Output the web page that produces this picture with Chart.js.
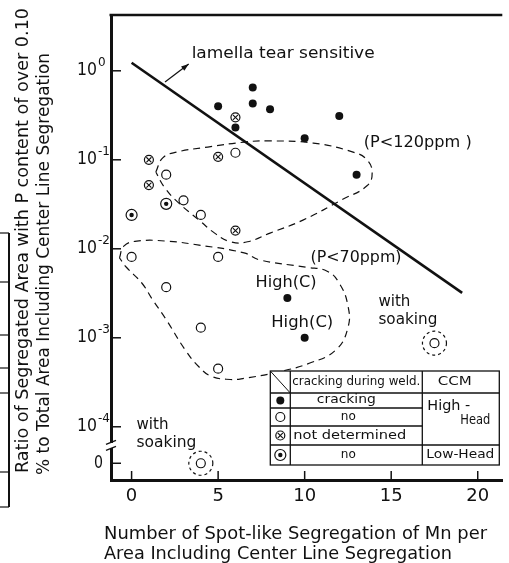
<!DOCTYPE html>
<html>
<head>
<meta charset="utf-8">
<script src="https://cdn.jsdelivr.net/npm/chart.js@4.4.0/dist/chart.umd.min.js"></script>
<style>
  html, body { margin: 0; padding: 0; background: #fff; }
  canvas { display: block; }
</style>
</head>
<body>
<canvas id="chart" width="509" height="563"></canvas>
<script>
// ---- data ----
const xTickValues = [0, 5, 10, 15, 20];
const yTickValues = [0, 1e-4, 1e-3, 1e-2, 1e-1, 1];
const yTickExponents = [null, '-4', '-3', '-2', '-1', '0'];

// High-head CCM, cracking during welding
const crackX = [5, 6, 7, 7, 8, 10, 12, 13, 9, 10];
const crackY = [0.40, 0.23, 0.65, 0.43, 0.37, 0.175, 0.31, 0.068, 0.0028, 0.001];

// High-head CCM, no cracking
const noCrackX = [2, 3, 4, 6, 0, 5, 2, 4, 5, 4, 17.5];
const noCrackY = [0.068, 0.035, 0.024, 0.12, 0.0081, 0.0081, 0.0037, 0.0013, 0.00045, 0, 0.00087];

// High-head CCM, not determined
const undetX = [1, 1, 5, 6, 6];
const undetY = [0.10, 0.052, 0.108, 0.30, 0.016];

// Low-head CCM, no cracking
const lowHeadX = [0, 2];
const lowHeadY = [0.024, 0.032];

// samples treated with soaking (dashed rings)
const soakX = [4, 17.5];
const soakY = [0, 0.00087];

// "lamella tear sensitive" boundary
const lineX = [0, 19.1];
const lineY = [1.23, 0.0032];

// dashed regions
const region120X = [1.4, 1.8, 2.6, 4.4, 6.5, 7.8, 10.5, 12.8, 13.6, 13.9, 13.6, 12.2, 9.9, 8.0, 6.7, 5.7, 4.8, 3.9, 2.7, 1.9];
const region120Y = [0.073, 0.105, 0.122, 0.139, 0.158, 0.163, 0.154, 0.122, 0.100, 0.071, 0.051, 0.036, 0.021, 0.015, 0.012, 0.012, 0.015, 0.021, 0.033, 0.049];
const region70X = [-0.7, -0.45, 0.3, 2.0, 3.9, 6.5, 7.4, 10.1, 11.3, 12.0, 12.5, 12.5, 11.8, 10.3, 8.4, 6.5, 5.7, 4.6, 3.9, 3.1, 2.0, 1.2, 0.6, -0.3];
const region70Y = [0.0079, 0.0107, 0.0122, 0.0122, 0.011, 0.009, 0.0075, 0.0062, 0.0056, 0.0041, 0.0023, 0.0013, 0.00073, 0.00052, 0.00041, 0.00035, 0.00034, 0.00037, 0.00047, 0.00073, 0.0016, 0.0027, 0.0041, 0.0062];

// ---- helpers ----
const INK = '#111';
const FONT = "'DejaVu Sans', sans-serif";
const ZERO_LEVEL = -4.41;   // where "0" sits below the axis break

const toPos = v => v === 0 ? ZERO_LEVEL : Math.log10(v);
const pts = (xs, ys) => xs.map((x, i) => ({ x, y: toPos(ys[i]) }));
const loop = (xs, ys) => { const p = pts(xs, ys); return p.concat([p[0]]); };

function text(ctx, str, x, y, width, size, align) {
  ctx.save();
  ctx.font = size + 'px ' + FONT;
  ctx.textBaseline = 'middle';
  ctx.textAlign = align || 'left';
  ctx.translate(x, y);
  if (width) ctx.scale(width / ctx.measureText(str).width, 1);
  ctx.fillText(str, 0, 0);
  ctx.restore();
}

function seg(ctx, x1, y1, x2, y2) {
  ctx.beginPath(); ctx.moveTo(x1, y1); ctx.lineTo(x2, y2); ctx.stroke();
}

function marker(ctx, kind, x, y) {
  ctx.save();
  ctx.lineWidth = 1.2;
  ctx.beginPath();
  if (kind === 'crack') {
    ctx.arc(x, y, 4, 0, Math.PI * 2); ctx.fill();
  } else if (kind === 'no') {
    ctx.arc(x, y, 4.5, 0, Math.PI * 2); ctx.stroke();
  } else if (kind === 'undet') {
    ctx.arc(x, y, 4.5, 0, Math.PI * 2); ctx.stroke();
    seg(ctx, x - 2.6, y - 2.6, x + 2.6, y + 2.6);
    seg(ctx, x - 2.6, y + 2.6, x + 2.6, y - 2.6);
  } else {
    ctx.arc(x, y, 5.5, 0, Math.PI * 2); ctx.stroke();
    ctx.beginPath(); ctx.arc(x, y, 2.2, 0, Math.PI * 2); ctx.fill();
  }
  ctx.restore();
}

const paperPlugin = {
  id: 'paper',
  afterDraw(chart) {
    const { ctx, chartArea: ca, scales: { x: sx, y: sy } } = chart;
    const P = (x, y) => [sx.getPixelForValue(x), sy.getPixelForValue(toPos(y))];
    ctx.save();
    ctx.fillStyle = INK;
    ctx.strokeStyle = INK;

    // top frame line
    ctx.lineWidth = 2.5;
    seg(ctx, ca.left - 1.5, ca.top, ca.right, ca.top);

    // inward tick marks
    ctx.lineWidth = 1.5;
    xTickValues.forEach(v => {
      const xp = sx.getPixelForValue(v);
      seg(ctx, xp, ca.bottom, xp, ca.bottom - 9);
    });
    yTickValues.forEach(v => {
      const yp = sy.getPixelForValue(toPos(v));
      seg(ctx, ca.left, yp, ca.left + 10, yp);
    });

    // y tick labels with superscript exponents
    yTickValues.forEach((v, i) => {
      const yp = sy.getPixelForValue(toPos(v));
      const e = yTickExponents[i];
      if (e === null) {
        text(ctx, '0', ca.left - 8, yp, 9, 18, 'right');
      } else {
        text(ctx, '10', ca.left - 34, yp, 20, 18, 'left');
        text(ctx, e, ca.left - 13, yp - 8, null, 12, 'left');
      }
    });

    // axis break between 10^-4 and 0
    const yb = sy.getPixelForValue(-4.21);
    ctx.fillStyle = '#fff';
    ctx.fillRect(ca.left - 3, yb - 2.5, 6, 5);
    ctx.fillStyle = INK;
    ctx.lineWidth = 1.4;
    seg(ctx, ca.left - 5, yb - 1, ca.left + 5, yb - 5);
    seg(ctx, ca.left - 5, yb + 5, ca.left + 5, yb + 1);

    // axis titles
    text(ctx, 'Number of Spot-like Segregation of Mn per', 104, 535, 383, 17);
    text(ctx, 'Area Including Center Line Segregation', 104, 555, 348, 17);
    ctx.save();
    ctx.translate(0, 0);
    ctx.rotate(-Math.PI / 2);
    text(ctx, 'Ratio of Segregated Area with P content of over 0.10', -473, 24, 465, 17);
    text(ctx, '% to Total Area Including Center Line Segregation', -475, 45, 422, 17);
    ctx.restore();

    // annotations
    const notes = [
      ['lamella tear sensitive', 3.47, 1.55, 183],
      ['(P<120ppm )', 13.41, 0.155, 108],
      ['(P<70ppm)', 10.34, 0.00788, 91],
      ['High(C)', 7.16, 0.00413, 61],
      ['High(C)', 8.07, 0.00147, 62],
      ['with', 14.26, 0.00252, 32],
      ['soaking', 14.26, 0.00158, 59],
      ['with', 0.28, 1.05e-4, 32],
      ['soaking', 0.28, 6.6e-5, 60]
    ];
    notes.forEach(([s, x, y, w]) => {
      const [xp, yp] = P(x, y);
      text(ctx, s, xp, yp, w, 15);
    });

    // arrow to the sensitive side
    const [ax0, ay0] = P(1.93, 0.75);
    const [ax1, ay1] = P(3.3, 1.19);
    ctx.lineWidth = 1.2;
    seg(ctx, ax0, ay0, ax1, ay1);
    const ang = Math.atan2(ay1 - ay0, ax1 - ax0);
    ctx.beginPath();
    ctx.moveTo(ax1, ay1);
    ctx.lineTo(ax1 - 8 * Math.cos(ang - 0.35), ay1 - 8 * Math.sin(ang - 0.35));
    ctx.lineTo(ax1 - 8 * Math.cos(ang + 0.35), ay1 - 8 * Math.sin(ang + 0.35));
    ctx.closePath();
    ctx.fill();

    // dashed rings around soaked samples
    ctx.setLineDash([3, 3]);
    ctx.lineWidth = 1.2;
    soakX.forEach((x, i) => {
      const [xp, yp] = P(x, soakY[i]);
      ctx.beginPath(); ctx.arc(xp, yp, 12, 0, Math.PI * 2); ctx.stroke();
    });
    ctx.setLineDash([]);

    // legend table
    const x0 = ca.right - 232, x1 = x0 + 20, x2 = x0 + 152, x3 = ca.right - 3;
    const y0 = ca.bottom - 109, y1 = y0 + 22, y2 = y0 + 37, y3 = y0 + 55, y4 = y0 + 74, y5 = y0 + 94;
    ctx.fillStyle = '#fff';
    ctx.fillRect(x0, y0, x3 - x0, y5 - y0);
    ctx.fillStyle = INK;
    ctx.lineWidth = 1.3;
    ctx.strokeRect(x0, y0, x3 - x0, y5 - y0);
    seg(ctx, x0, y1, x3, y1);
    seg(ctx, x0, y2, x2, y2);
    seg(ctx, x0, y3, x2, y3);
    seg(ctx, x0, y4, x3, y4);
    seg(ctx, x1, y0, x1, y5);
    seg(ctx, x2, y0, x2, y5);
    ctx.lineWidth = 1;
    seg(ctx, x0, y0, x1, y1);
    const mx = (x0 + x1) / 2;
    marker(ctx, 'crack', mx, (y1 + y2) / 2);
    marker(ctx, 'no', mx, (y2 + y3) / 2);
    marker(ctx, 'undet', mx, (y3 + y4) / 2);
    marker(ctx, 'low', mx, (y4 + y5) / 2);
    const cx = (x1 + x2) / 2;
    text(ctx, 'cracking during weld.', x1 + 2, (y0 + y1) / 2, 128, 13);
    text(ctx, 'CCM', (x2 + x3) / 2 - 6, (y0 + y1) / 2, 34, 13, 'center');
    text(ctx, 'cracking', cx - 10, (y1 + y2) / 2 - 1, 59, 13, 'center');
    text(ctx, 'no', cx - 8, (y2 + y3) / 2, 15, 13, 'center');
    text(ctx, 'not determined', x1 + 3, (y3 + y4) / 2, 113, 13);
    text(ctx, 'no', cx - 8, (y4 + y5) / 2, 15, 13, 'center');
    text(ctx, 'High -', x2 + 5, y1 + 13, 43, 14);
    text(ctx, 'Head', x3 - 9, y1 + 27, 30, 14, 'right');
    text(ctx, 'Low-Head', x2 + 4, (y4 + y5) / 2, 68, 13);

    // fragment of the neighbouring figure at the left edge
    ctx.lineWidth = 2;
    seg(ctx, 9, 233, 9, 507);
    ctx.lineWidth = 1.2;
    [233, 282, 335, 368, 393, 472, 507].forEach(y => seg(ctx, 0, y, 9, y));

    ctx.restore();
  }
};

new Chart(document.getElementById('chart'), {
  type: 'scatter',
  data: {
    datasets: [
      {
        label: 'P<120ppm',
        data: loop(region120X, region120Y),
        showLine: true, tension: 0.45, pointRadius: 0,
        borderColor: INK, borderWidth: 1.2, borderDash: [7, 5],
        order: 6
      },
      {
        label: 'P<70ppm',
        data: loop(region70X, region70Y),
        showLine: true, tension: 0.45, pointRadius: 0,
        borderColor: INK, borderWidth: 1.2, borderDash: [7, 5],
        order: 6
      },
      {
        label: 'lamella tear sensitive',
        data: pts(lineX, lineY),
        showLine: true, pointRadius: 0,
        borderColor: INK, borderWidth: 2.6,
        order: 5
      },
      {
        label: 'cracking',
        data: pts(crackX, crackY),
        pointStyle: 'circle', pointRadius: 4,
        backgroundColor: INK, borderColor: INK, borderWidth: 0,
        order: 1
      },
      {
        label: 'no',
        data: pts(noCrackX, noCrackY),
        pointStyle: 'circle', pointRadius: 4.5,
        backgroundColor: '#fff', borderColor: INK, borderWidth: 1.2,
        order: 1
      },
      {
        label: 'not determined',
        data: pts(undetX, undetY),
        pointStyle: 'circle', pointRadius: 4.5,
        backgroundColor: '#fff', borderColor: INK, borderWidth: 1.2,
        order: 1
      },
      {
        label: 'not determined (cross)',
        data: pts(undetX, undetY),
        pointStyle: 'crossRot', pointRadius: 3.6,
        borderColor: INK, borderWidth: 1.1,
        order: 0
      },
      {
        label: 'Low-Head no',
        data: pts(lowHeadX, lowHeadY),
        pointStyle: 'circle', pointRadius: 5.5,
        backgroundColor: '#fff', borderColor: INK, borderWidth: 1.2,
        order: 1
      },
      {
        label: 'Low-Head no (dot)',
        data: pts(lowHeadX, lowHeadY),
        pointStyle: 'circle', pointRadius: 2.2,
        backgroundColor: INK, borderWidth: 0,
        order: 0
      }
    ]
  },
  options: {
    responsive: false,
    animation: false,
    devicePixelRatio: 1,
    layout: { padding: { top: 15, left: 0, right: 0, bottom: 0 } },
    plugins: { legend: { display: false }, tooltip: { enabled: false } },
    scales: {
      x: {
        type: 'linear', min: -1.19, max: 21.42,
        afterBuildTicks: s => { s.ticks = xTickValues.map(v => ({ value: v })); },
        afterFit: s => { s.height = 83; },
        grid: { display: false, drawTicks: false },
        border: { display: true, color: INK, width: 3 },
        ticks: { color: INK, padding: 6, font: { family: FONT, size: 18 } }
      },
      y: {
        type: 'linear', min: -4.598, max: 0.627,
        afterBuildTicks: s => { s.ticks = yTickValues.map(v => ({ value: toPos(v) })); },
        afterFit: s => { s.width = 111; },
        grid: { display: false, drawTicks: false },
        border: { display: true, color: INK, width: 3 },
        ticks: { display: false }
      }
    }
  },
  plugins: [paperPlugin]
});
</script>
</body>
</html>
